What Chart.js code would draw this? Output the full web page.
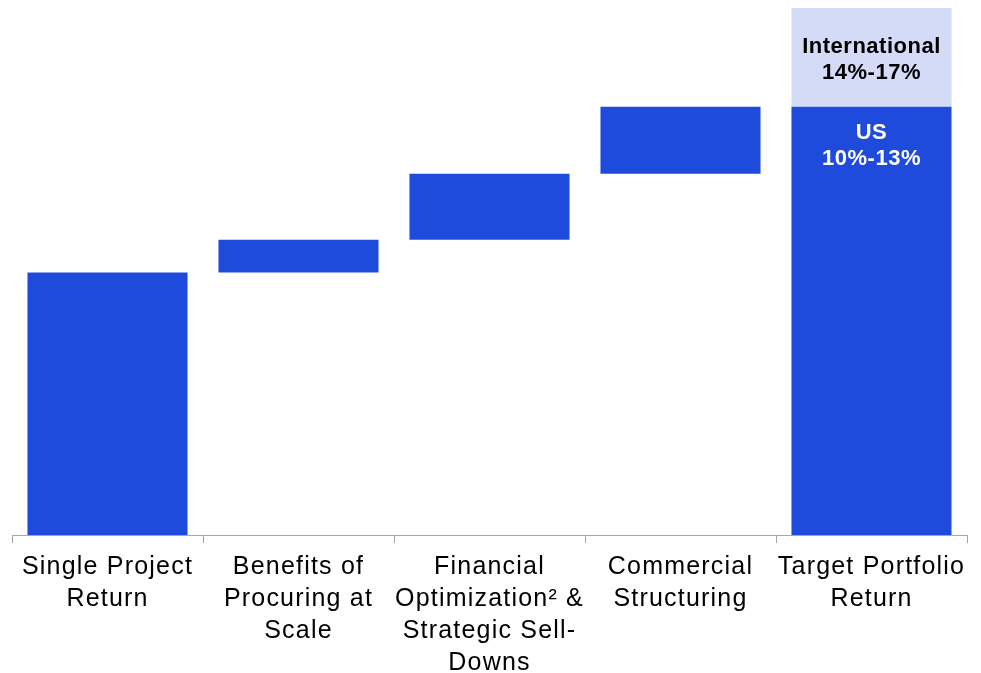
<!DOCTYPE html>
<html>
<head>
<meta charset="utf-8">
<script src="https://cdn.jsdelivr.net/npm/chart.js@4"></script>
<style>
  html, body { margin: 0; padding: 0; background: #fff; }
  #wrap { width: 981px; height: 673px; }
</style>
</head>
<body>
<div id="wrap"><canvas id="chart"></canvas></div>
<script>
// Waterfall: each step starts where the previous one ended
const categories = [
  ["Single Project", "Return"],
  ["Benefits of", "Procuring at", "Scale"],
  ["Financial", "Optimization² &", "Strategic Sell-", "Downs"],
  ["Commercial", "Structuring"],
  ["Target Portfolio", "Return"],
];
const stepStart = [0, 7.05, 7.93, 9.7, 0];
const stepEnd   = [7.05, 7.93, 9.7, 11.5, 11.5];
const intlStart = [null, null, null, null, 11.5];
const intlEnd   = [null, null, null, null, 14.15];
const usLabel   = ["US", "10%-13%"];
const intlLabel = ["International", "14%-17%"];

const BLUE = "#1f4bdd";
const LIGHT = "#d3dbf7";
const FONT = "'Liberation Sans', Arial, sans-serif";

// The axis labels in the original are slightly letter-spaced
const spacing = {
  id: "spacing",
  beforeDraw(chart) {
    chart.ctx.letterSpacing = "1.2px";
  }
};

// Text written inside the last (stacked) bar
const barText = {
  id: "barText",
  afterDatasetsDraw(chart) {
    const ctx = chart.ctx;
    const us = chart.getDatasetMeta(0).data[4];
    const intl = chart.getDatasetMeta(1).data[4];
    ctx.save();
    ctx.letterSpacing = "0.5px";
    ctx.font = "bold 22px " + FONT;
    ctx.textAlign = "center";
    ctx.textBaseline = "middle";
    ctx.fillStyle = "#000";
    ctx.fillText(intlLabel[0], intl.x, intl.y + 39);
    ctx.fillText(intlLabel[1], intl.x, intl.y + 65);
    ctx.fillStyle = "#fff";
    ctx.fillText(usLabel[0], us.x, us.y + 26);
    ctx.fillText(usLabel[1], us.x, us.y + 52);
    ctx.restore();
  }
};

new Chart(document.getElementById("chart"), {
  type: "bar",
  data: {
    labels: categories,
    datasets: [
      {
        data: stepStart.map((s, i) => [s, stepEnd[i]]),
        backgroundColor: BLUE,
        grouped: false,
        barPercentage: 0.838,
        categoryPercentage: 1,
      },
      {
        data: intlStart.map((s, i) => (s === null ? null : [s, intlEnd[i]])),
        backgroundColor: LIGHT,
        grouped: false,
        barPercentage: 0.838,
        categoryPercentage: 1,
      },
    ],
  },
  options: {
    responsive: true,
    maintainAspectRatio: false,
    animation: false,
    layout: { padding: { top: 8, left: 12, right: 14, bottom: -14 } },
    plugins: { legend: { display: false }, tooltip: { enabled: false } },
    scales: {
      x: {
        border: { display: true, color: "#a6a6a6", width: 1 },
        grid: {
          offset: true,
          drawOnChartArea: false,
          drawTicks: true,
          tickLength: 8,
          color: "#a6a6a6",
        },
        ticks: {
          color: "#000",
          padding: 8,
          maxRotation: 0,
          autoSkip: false,
          font: { family: FONT, size: 25, lineHeight: 1.28 },
        },
      },
      y: {
        display: false,
        min: 0,
        max: 14.15,
      },
    },
  },
  plugins: [spacing, barText],
});
</script>
</body>
</html>
